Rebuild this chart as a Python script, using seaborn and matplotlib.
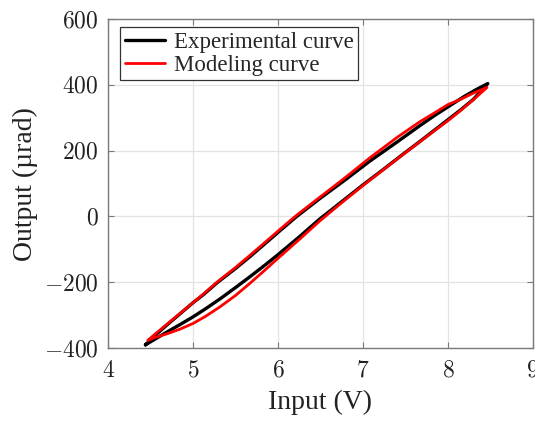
import numpy as np
import pandas as pd
import seaborn as sns
import matplotlib
matplotlib.use("Agg")
import matplotlib.pyplot as plt
from matplotlib.ticker import FuncFormatter

# experimental loop: ascending (lower) branch then descending (upper) branch
exp_x = [4.44, 4.55, 4.7, 4.85, 5.0, 5.15, 5.32, 5.5, 5.67, 5.85, 6.0, 6.25, 6.49, 6.75, 7.0, 7.25, 7.46, 7.67, 7.88, 8.0, 8.15, 8.3, 8.47,
         8.35, 8.2, 8.0, 7.85, 7.67, 7.4, 7.08, 6.8, 6.5, 6.22, 6.02, 5.85, 5.67, 5.5, 5.28, 5.12, 5.0, 4.85, 4.7, 4.55, 4.44]
exp_y = [-390, -373, -350, -328, -305, -280, -250, -216, -183, -147, -116, -62, -8, 45, 96, 145, 187, 228, 270, 294, 324, 356, 404,
         388, 366, 333, 308, 276, 226, 168, 113, 56, 0, -44, -82, -122, -158, -202, -238, -262, -295, -328, -362, -390]

# model loop
mod_x = [4.47, 4.55, 4.7, 4.85, 5.0, 5.15, 5.32, 5.5, 5.67, 5.85, 6.0, 6.25, 6.49, 6.75, 7.0, 7.25, 7.46, 7.67, 7.88, 8.0, 8.15, 8.3, 8.46,
         8.3, 8.15, 8.0, 7.85, 7.67, 7.4, 7.08, 6.8, 6.5, 6.22, 6.02, 5.85, 5.67, 5.5, 5.28, 5.12, 5.0, 4.85, 4.7, 4.55, 4.47]
mod_y = [-376, -368, -356, -342, -325, -303, -274, -240, -203, -162, -127, -70, -14, 42, 94, 144, 186, 227, 268, 291, 322, 355, 392,
         375, 356, 340, 316, 288, 240, 178, 120, 60, 4, -40, -78, -118, -155, -200, -236, -262, -294, -326, -358, -376]

labels = ["Experimental curve", "Modeling curve"]

sns.set_theme(style="whitegrid")
plt.rcParams["font.family"] = ["Liberation Serif", "DejaVu Serif"]
plt.rcParams["mathtext.fontset"] = "cm"

fig = plt.figure(figsize=(5.35, 4.23), dpi=100)
ax = fig.add_axes([0.202, 0.177, 0.794, 0.778])

# estimator=None keeps the loop as drawn (no averaging of repeated x values)
sns.lineplot(x=exp_x, y=exp_y, sort=False, estimator=None, color="black", linewidth=2.4, ax=ax, label=labels[0])
sns.lineplot(x=mod_x, y=mod_y, sort=False, estimator=None, color="red", linewidth=2.0, ax=ax, label=labels[1])

ax.set_xlim(4, 9)
ax.set_ylim(-400, 600)
ax.set_xticks([4, 5, 6, 7, 8, 9])
ax.set_yticks([-400, -200, 0, 200, 400, 600])
fmt = FuncFormatter(lambda v, p: r"$%d$" % v)
ax.xaxis.set_major_formatter(fmt)
ax.yaxis.set_major_formatter(fmt)

ax.set_facecolor("white")
ax.grid(True, color="#e3e3e3", linewidth=0.9)
for s in ax.spines.values():
    s.set_color("#7a7a7a")
    s.set_linewidth(1.0)
ax.tick_params(direction="in", length=4, width=0.8, color="#7a7a7a",
               top=True, right=True, bottom=True, left=True, labelsize=17, labelcolor="#222222")
ax.tick_params(axis="x", pad=9)
ax.tick_params(axis="y", pad=7)

ax.set_xlabel("Input (V)", fontsize=20, color="#222222", labelpad=6)
ax.set_ylabel("Output (\u00b5rad)", fontsize=20, color="#222222", labelpad=4)

leg = ax.legend(loc="upper left", bbox_to_anchor=(0.028, 0.976), borderaxespad=0,
                fontsize=16.5, frameon=True, fancybox=False, framealpha=1,
                handlelength=1.75, handletextpad=0.4, borderpad=0.2, labelspacing=0.1)
leg.get_frame().set_edgecolor("#333333")
leg.get_frame().set_linewidth(0.9)

fig.savefig("out.png", dpi=100)
